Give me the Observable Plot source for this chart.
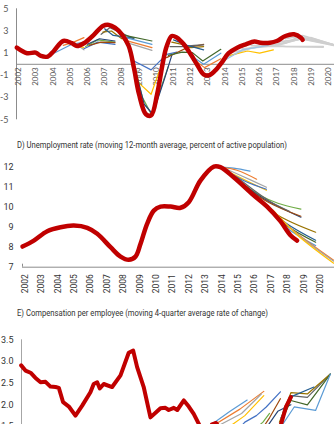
<!DOCTYPE html>
<html>
<head>
<meta charset="utf-8">
<script src="https://cdn.jsdelivr.net/npm/d3@7"></script>
<script src="https://cdn.jsdelivr.net/npm/@observablehq/plot@0.6"></script>
<style>
  html, body { margin: 0; padding: 0; background: #fff; }
  #page { position: relative; width: 334px; height: 424px; overflow: hidden; background: #fff; }
  .panel { position: absolute; left: 0; }
  .title { position: absolute; left: 17px; font-family: Roboto, sans-serif;
           font-size: 8.5px; color: #333; white-space: nowrap; line-height: 10px;
           transform: scaleX(0.9); transform-origin: 0 50%; }
</style>
</head>
<body>
<div id="page"></div>
<script>
// ---- data -------------------------------------------------------------

const yearLabels = d3.range(2002, 2021);

// GDP growth outturn (year, % y/y)
const gdpT = [2001.9, 2002.5, 2003.0, 2003.3, 2003.7, 2004.05, 2004.6, 2005.1, 2005.4, 2005.8,
  2006.4, 2006.9, 2007.25, 2007.6, 2008.0, 2008.4, 2008.7, 2009.0, 2009.4, 2009.7, 2010.05,
  2010.4, 2010.6, 2010.9, 2011.2, 2011.6, 2012.0, 2012.4, 2012.75, 2013.05, 2013.4, 2013.8,
  2014.2, 2014.7, 2015.2, 2015.7, 2016.05, 2016.6, 2017.0, 2017.5, 2018.0, 2018.4, 2018.5];
const gdpV = [1.5, 1.0, 1.05, 0.75, 0.7, 1.2, 2.1, 1.9, 1.65, 1.9,
  2.7, 3.45, 3.55, 3.3, 2.7, 1.65, -0.3, -2.7, -4.5, -4.6, -2.7,
  0.3, 1.6, 2.55, 2.4, 1.8, 0.9, -0.1, -0.9, -1.0, -0.6, 0.15,
  1.0, 1.5, 1.8, 2.05, 1.95, 1.95, 2.1, 2.55, 2.7, 2.4, 2.2];

// GDP growth projections, one list of [year, value] per vintage
const gdpProjections = [
  [[2004.0, 0.95], [2005.1, 1.8], [2005.8, 2.0]],
  [[2004.6, 1.7], [2005.2, 2.0], [2005.8, 2.4]],
  [[2004.8, 2.0], [2005.3, 1.9], [2005.8, 1.3]],
  [[2004.9, 1.9], [2005.4, 1.7], [2005.8, 1.5]],
  [[2005.8, 1.4], [2006.6, 2.0], [2007.6, 1.8]],
  [[2005.9, 1.6], [2006.6, 2.2], [2007.6, 2.0]],
  [[2006.0, 1.8], [2006.7, 2.3], [2007.6, 2.1]],
  [[2006.1, 1.7], [2006.8, 2.0], [2007.6, 1.95]],
  [[2006.8, 2.7], [2007.3, 3.3], [2008.7, 2.3]],
  [[2006.9, 2.9], [2007.4, 3.0], [2008.0, 2.3], [2008.7, 2.4]],
  [[2007.0, 3.2], [2007.5, 2.6], [2008.7, 2.35]],
  [[2007.9, 2.7], [2009.75, 2.1]],
  [[2008.0, 2.5], [2009.75, 1.8]],
  [[2008.1, 2.2], [2009.75, 1.5]],
  [[2008.2, 2.0], [2009.75, 1.25]],
  [[2008.4, 1.5], [2009.0, -1.7], [2009.7, -2.7], [2010.2, -0.5]],
  [[2008.4, 1.2], [2008.7, 0.3], [2009.7, -0.5], [2010.6, 0.9], [2011.2, 1.1]],
  [[2008.6, 0.6], [2009.2, -3.0], [2009.75, -4.6], [2010.3, -2.0], [2010.7, -0.2]],
  [[2008.7, 0.0], [2009.3, -3.6], [2009.8, -4.5], [2010.5, -1.2], [2010.9, 0.8]],
  [[2010.6, 0.6], [2011.0, 0.9], [2011.8, 1.5], [2012.75, 1.8]],
  [[2010.8, 1.6], [2011.5, 1.6], [2012.2, 1.7], [2012.75, 1.75]],
  [[2010.9, 2.0], [2011.5, 1.8], [2012.0, 1.5], [2012.75, 1.6]],
  [[2011.0, 2.2], [2011.8, 1.7], [2012.75, 1.3]],
  [[2010.7, 0.8], [2011.5, 1.1], [2012.1, 1.05], [2012.7, 0.3], [2013.75, 1.35]],
  [[2012.2, 0.6], [2012.75, 0.0], [2013.75, 1.0]],
  [[2012.3, 0.3], [2012.8, -0.3], [2013.75, 0.5]]
];
// later GDP vintages (2014 onwards)
const gdpRecentProjections = [
  [[2014.0, 0.6], [2015.5, 1.5], [2017.0, 1.8], [2018.5, 2.3], [2020.3, 1.75]],
  [[2014.5, 1.1], [2016.0, 1.6], [2017.5, 1.9], [2018.3, 2.5], [2020.3, 1.75]],
  [[2015.0, 1.4], [2016.5, 1.6], [2018.0, 1.6], [2019.7, 1.6]],
  [[2015.5, 1.7], [2017.0, 1.7], [2018.4, 2.3], [2020.3, 1.7]],
  [[2016.0, 1.8], [2017.5, 1.6], [2019.7, 1.55]],
  [[2017.0, 2.0], [2018.0, 2.2], [2019.0, 2.4], [2020.3, 1.75]],
  [[2017.5, 2.3], [2018.5, 2.6], [2020.3, 1.75]]
];
const gdpRecentHighlights = [
  [[2014.3, 0.8], [2015.3, 1.2], [2016.0, 1.0], [2016.8, 1.3]],
  [[2013.8, 0.2], [2015.0, 1.3], [2016.5, 1.7]]
];

// Unemployment rate outturn (year, %)
const unempT = [2001.92, 2002.61, 2003.43, 2004.24, 2005.05, 2005.87, 2006.48, 2007.29, 2007.9,
  2008.4, 2008.81, 2009.12, 2009.52, 2009.93, 2010.34, 2010.95, 2011.56, 2012.06, 2012.77,
  2013.59, 2013.99, 2014.8, 2016.02, 2016.84, 2017.65, 2018.26, 2018.67];
const unempV = [8.03, 8.33, 8.8, 9.0, 9.08, 8.97, 8.67, 8.0, 7.53,
  7.37, 7.53, 8.17, 9.17, 9.83, 10.03, 10.03, 9.97, 10.25, 11.33,
  12.03, 12.0, 11.5, 10.6, 10.03, 9.3, 8.6, 8.33];

// Unemployment projections, one list per vintage
const unempProjections = [
  [[2014.0, 12.0], [2014.8, 11.95], [2015.8, 11.8]],
  [[2014.0, 12.0], [2015.0, 11.85], [2016.2, 11.4]],
  [[2014.1, 12.0], [2015.2, 11.6], [2016.8, 11.0]],
  [[2014.2, 11.9], [2015.4, 11.4], [2016.8, 10.85]],
  [[2014.2, 11.9], [2015.5, 11.3], [2016.8, 10.9]],
  [[2014.5, 11.7], [2016.4, 10.6], [2017.5, 10.2], [2018.9, 9.9]],
  [[2014.5, 11.7], [2016.5, 10.5], [2018.9, 9.5]],
  [[2014.6, 11.6], [2016.8, 10.3], [2018.9, 9.55]],
  [[2015.0, 11.5], [2017.0, 10.3], [2018.2, 9.8]],
  [[2016.0, 10.6], [2017.5, 9.6], [2019.8, 8.75]],
  [[2016.2, 10.45], [2018.0, 9.2], [2019.8, 8.35]],
  [[2016.3, 10.4], [2018.0, 9.1], [2019.8, 8.25]],
  [[2016.5, 10.3], [2018.0, 9.0], [2019.8, 8.08]],
  [[2017.0, 9.95], [2018.5, 8.8], [2020.9, 7.35]],
  [[2017.1, 9.9], [2018.6, 8.7], [2020.9, 7.3]],
  [[2017.2, 9.85], [2018.7, 8.6], [2020.9, 7.2]]
];

// Compensation per employee outturn (year, % change)
const compT = [2001.9, 2002.16, 2002.47, 2002.77, 2003.08, 2003.38, 2003.68, 2003.99, 2004.19,
  2004.45, 2004.8, 2005.2, 2005.61, 2006.11, 2006.31, 2006.52, 2006.68, 2006.92, 2007.43,
  2007.94, 2008.44, 2008.71, 2008.95, 2009.35, 2009.76, 2010.17, 2010.37, 2010.67, 2010.87,
  2011.18, 2011.39, 2011.79, 2012.09, 2012.39, 2012.7, 2012.9, 2013.2, 2013.5, 2013.75,
  2014.0, 2014.5, 2015.0, 2015.5, 2016.0, 2016.5, 2017.0, 2017.4, 2017.7, 2018.0, 2018.3];
const compV = [2.91, 2.79, 2.74, 2.62, 2.52, 2.53, 2.42, 2.41, 2.39,
  2.06, 1.96, 1.75, 1.98, 2.29, 2.48, 2.52, 2.38, 2.48, 2.41,
  2.68, 3.2, 3.25, 2.87, 2.41, 1.71, 1.85, 1.92, 1.93, 1.88,
  1.93, 1.88, 2.1, 1.96, 1.79, 1.56, 1.4, 1.35, 1.55, 1.58,
  1.45, 1.2, 1.0, 1.1, 1.0, 1.1, 1.2, 1.35, 1.55, 1.95, 2.18];

// Compensation projections, one list per vintage
const compProjections = [
  [[2013.6, 1.58], [2014.6, 1.85], [2015.64, 2.11]],
  [[2013.7, 1.55], [2015.2, 1.9], [2016.65, 2.31]],
  [[2013.8, 1.5], [2015.3, 1.8], [2016.5, 2.25]],
  [[2014.2, 1.4], [2015.5, 1.75], [2016.65, 2.21]],
  [[2014.8, 1.3], [2015.5, 1.6], [2016.2, 1.75], [2016.8, 1.95], [2017.66, 2.3]],
  [[2016.0, 1.4], [2016.6, 1.6], [2017.0, 1.8]],
  [[2016.5, 1.3], [2017.5, 1.85], [2018.3, 2.0]],
  [[2016.3, 1.3], [2017.0, 1.7], [2017.66, 2.14]],
  [[2017.6, 1.5], [2017.9, 1.94], [2018.3, 2.21], [2019.3, 2.17], [2020.7, 2.71]],
  [[2017.6, 1.6], [2018.3, 2.28], [2019.3, 2.25], [2020.7, 2.71]],
  [[2017.7, 1.7], [2018.4, 2.2], [2019.7, 2.41]],
  [[2017.7, 1.6], [2018.3, 2.1], [2019.3, 2.0], [2020.7, 2.71]],
  [[2017.8, 1.55], [2018.5, 1.95], [2019.8, 1.87], [2020.7, 2.71]]
];

// ---- drawing ----------------------------------------------------------

const vintageColors = ["#5B9BD5", "#ED7D31", "#A5A5A5", "#FFC000", "#4472C4", "#70AD47",
  "#264478", "#9E480E", "#636363", "#997300", "#255E91", "#43682B"];
const red = "#C00000";

const zip = (ts, vs) => ts.map((t, i) => ({t, v: vs[i]}));
const flatten = (list) => list.flatMap((pts, id) => pts.map(([t, v]) => ({id, t, v})));
const vintageStroke = (d) => vintageColors[d.id % vintageColors.length];

const page = document.getElementById("page");
function place(node, top) {
  const div = document.createElement("div");
  div.className = "panel";
  div.style.top = top + "px";
  div.appendChild(node);
  page.appendChild(div);
}
function title(text, top) {
  const div = document.createElement("div");
  div.className = "title";
  div.style.top = top + "px";
  div.textContent = text;
  page.appendChild(div);
}

// GDP growth panel
const gdpX0 = 2001.884, gdpX1 = 2020.35;
place(Plot.plot({
  width: 334, height: 130,
  marginLeft: 16, marginRight: 0, marginTop: 8.3, marginBottom: 10.7,
  x: {domain: [gdpX0, gdpX1], axis: null},
  y: {domain: [-5, 5], axis: null},
  style: {fontFamily: "Lato, sans-serif", fontSize: "8px", color: "#595959", background: "#fff"},
  marks: [
    Plot.ruleX([gdpX0], {y1: -5, y2: 5, stroke: "#8c8c8c"}),
    Plot.ruleY([0], {stroke: "#8c8c8c"}),
    Plot.axisY({ticks: [5, 3, 1, -1, -3, -5], tickSize: 0, tickPadding: 8, label: null, tickFormat: (d) => String(d), fill: "#595959", fontSize: 9}),
    Plot.text(yearLabels, {x: (d) => d, y: () => 0, text: (d) => String(d), rotate: -90, textAnchor: "end", lineAnchor: "middle", dy: 3, fill: "#595959"}),
    Plot.line(flatten(gdpRecentProjections), {x: "t", y: "v", z: "id", stroke: "#cfcfcf", strokeWidth: 1.6}),
    Plot.line(flatten(gdpRecentHighlights), {x: "t", y: "v", z: "id", stroke: (d) => ["#FFC000", "#9DC3E6"][d.id], strokeWidth: 1.2}),
    Plot.line(flatten(gdpProjections), {x: "t", y: "v", z: "id", stroke: vintageStroke, strokeWidth: 1.2}),
    Plot.line(zip(gdpT, gdpV), {x: "t", y: "v", stroke: red, strokeWidth: 4.5, curve: "catmull-rom"})
  ]
}), 0);

// Unemployment panel
title("D) Unemployment rate (moving 12-month average, percent of active population)", 140);
const x0 = 2001.92, x1 = 2020.95;
place(Plot.plot({
  width: 334, height: 145,
  marginLeft: 22, marginRight: 0, marginTop: 11.7, marginBottom: 33.3,
  x: {domain: [x0, x1], axis: null},
  y: {domain: [7, 12], axis: null},
  style: {fontFamily: "Roboto, sans-serif", fontSize: "8.5px", color: "#333", background: "#fff"},
  marks: [
    Plot.ruleY([7], {stroke: "#8c8c8c"}),
    Plot.ruleX([x0], {y1: 7, y2: 7.15, stroke: "#8c8c8c"}),
    Plot.axisY({ticks: [7, 8, 9, 10, 11, 12], tickSize: 0, tickPadding: 9, label: null, tickFormat: (d) => String(d), fill: "#333", fontSize: 9}),
    Plot.text(yearLabels, {x: (d) => d + 0.08, y: () => 7, text: (d) => String(d), rotate: -90, textAnchor: "end", lineAnchor: "middle", dy: 7, fill: "#333"}),
    Plot.line(flatten(unempProjections), {x: "t", y: "v", z: "id", stroke: vintageStroke, strokeWidth: 1.2, curve: "catmull-rom"}),
    Plot.line(zip(unempT, unempV), {x: "t", y: "v", stroke: red, strokeWidth: 4.5, curve: "catmull-rom"})
  ]
}), 155);

// Compensation panel (lower part falls below the page edge)
title("E) Compensation per employee (moving 4-quarter average rate of change)", 308);
place(Plot.plot({
  width: 334, height: 150,
  marginLeft: 21, marginRight: 0, marginTop: 14.3, marginBottom: 5.7,
  x: {domain: [x0, x1], axis: null},
  y: {domain: [0.5, 3.5], axis: null},
  style: {fontFamily: "Roboto, sans-serif", fontSize: "9px", color: "#333", background: "#fff"},
  marks: [
    Plot.ruleX([x0], {y1: 0.5, y2: 3.5, stroke: "#a6a6a6"}),
    Plot.axisY({ticks: [1.5, 2.0, 2.5, 3.0, 3.5], tickSize: 0, tickPadding: 8, label: null, tickFormat: d3.format(".1f"), fill: "#333", fontSize: 9}),
    Plot.line(flatten(compProjections), {x: "t", y: "v", z: "id", stroke: vintageStroke, strokeWidth: 1.2}),
    Plot.line(zip(compT, compV), {x: "t", y: "v", stroke: red, strokeWidth: 4})
  ]
}), 325);
</script>
</body>
</html>
